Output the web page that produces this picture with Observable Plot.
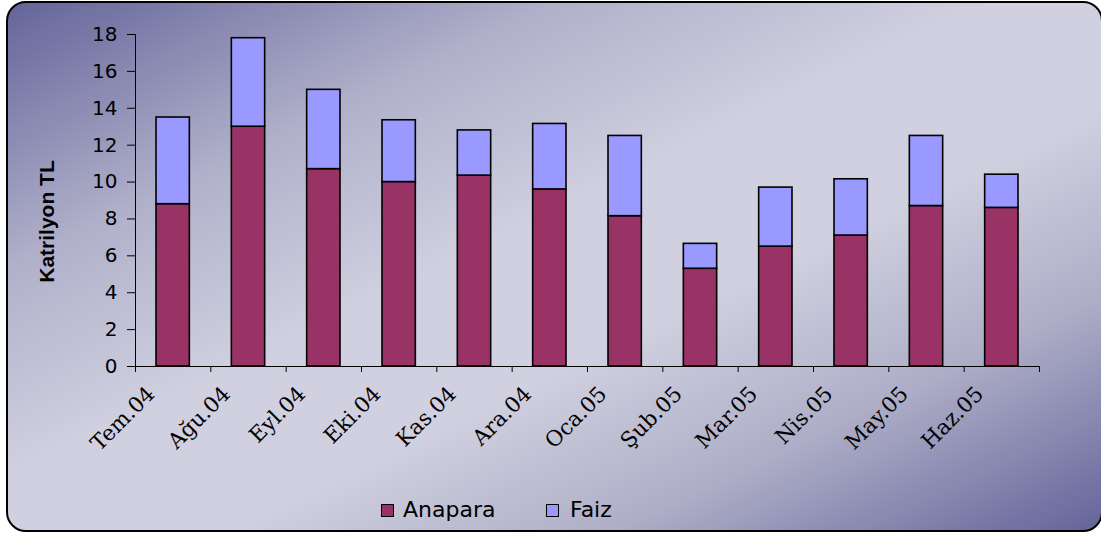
<!DOCTYPE html>
<html>
<head>
<meta charset="utf-8">
<script src="https://cdn.jsdelivr.net/npm/d3@7"></script>
<script src="https://cdn.jsdelivr.net/npm/@observablehq/plot@0.6"></script>
<style>
  html, body { margin: 0; padding: 0; background: #ffffff; }
  #wrap { position: relative; width: 1101px; height: 534px; overflow: hidden; }
  #frame {
    position: absolute; left: 6px; top: 1px; width: 1097px; height: 531px;
    box-sizing: border-box; border: 2px solid #000; border-radius: 20px;
    background: linear-gradient(to bottom right, #64649a 0%, #b0b0ca 25%, #d0d0e0 45%, #d0d0e0 60%, #adadc7 78%, #64649a 100%);
  }
  #chart { position: absolute; left: 0; top: 0; }
  #legend { position: absolute; left: 0; top: 0; width: 1101px; height: 534px; pointer-events: none;
    font-family: "DejaVu Sans", sans-serif; font-size: 22px; color: #000; }
  .sw { position: absolute; width: 13px; height: 13px; box-sizing: border-box; border: 1.5px solid #000; }
  .lt { position: absolute; line-height: 22px; }
</style>
</head>
<body>
<div id="wrap">
  <div id="frame"></div>
  <div id="chart"></div>
  <div id="legend"></div>
</div>
<script>
// ---- data ----
const months = ["Tem.04","Ağu.04","Eyl.04","Eki.04","Kas.04","Ara.04","Oca.05","Şub.05","Mar.05","Nis.05","May.05","Haz.05"];
const anapara = [8.8, 13.0, 10.7, 10.0, 10.35, 9.6, 8.15, 5.3, 6.5, 7.1, 8.7, 8.6];
const faiz    = [4.7, 4.8, 4.3, 3.35, 2.45, 3.55, 4.35, 1.35, 3.2, 3.05, 3.8, 1.8];
const yTicks = [0, 2, 4, 6, 8, 10, 12, 14, 16, 18];
const seriesNames = ["Anapara", "Faiz"];
const seriesColors = ["#993366", "#9999ff"];
const yLabel = "Katrilyon TL";

// ---- build table ----
const rows = [];
months.forEach((m, i) => {
  rows.push({i, month: m, series: "Anapara", y1: 0, y2: anapara[i]});
  rows.push({i, month: m, series: "Faiz", y1: anapara[i], y2: anapara[i] + faiz[i]});
});
const boundaries = d3.range(months.length + 1);

const chart = Plot.plot({
  width: 1101,
  height: 534,
  marginLeft: 135,
  marginRight: 62,
  marginTop: 34,
  marginBottom: 168,
  style: {background: "transparent", overflow: "visible", color: "#000"},
  x: {domain: [0, months.length], axis: null},
  y: {domain: [0, 18], axis: null},
  color: {domain: seriesNames, range: seriesColors},
  marks: [
    Plot.rect(rows, {
      x1: "i", x2: d => d.i + 1, y1: "y1", y2: "y2", fill: "series",
      insetLeft: 21, insetRight: 21, stroke: "#000", strokeWidth: 1.6
    }),
    Plot.ruleY([0], {stroke: "#000", strokeWidth: 1}),
    Plot.ruleX([0], {stroke: "#000", strokeWidth: 1}),
    Plot.axisY(yTicks, {
      tickSize: 8, tickPadding: 10, stroke: "#000", strokeWidth: 1,
      fontSize: 20, fontFamily: "DejaVu Sans", fill: "#000", label: null
    }),
    Plot.axisX(boundaries, {
      anchor: "bottom", tickSize: 6, tickFormat: () => "", stroke: "#000", strokeWidth: 1, label: null
    }),
    Plot.text(months, {
      x: (d, i) => i + 0.5, y: () => 0, text: d => d,
      rotate: -45, textAnchor: "end", lineAnchor: "middle",
      dx: -22, dy: 24, fontSize: 21.5, fontFamily: "DejaVu Serif", fill: "#000"
    }),
    Plot.text([yLabel], {
      frameAnchor: "left", text: d => d, rotate: -90, textAnchor: "middle", lineAnchor: "middle",
      dx: -88, dy: 21,
      fontSize: 21, fontWeight: "bold", fontFamily: "Liberation Sans, Arial", fill: "#000"
    })
  ]
});
document.getElementById("chart").appendChild(chart);

// ---- legend ----
const legend = document.getElementById("legend");
const legendPos = [{sq: 381, tx: 403}, {sq: 546, tx: 570}];
seriesNames.forEach((name, k) => {
  const sw = document.createElement("div");
  sw.className = "sw";
  sw.style.left = legendPos[k].sq + "px";
  sw.style.top = "504px";
  sw.style.background = seriesColors[k];
  legend.appendChild(sw);
  const t = document.createElement("div");
  t.className = "lt";
  t.style.left = legendPos[k].tx + "px";
  t.style.top = "499px";
  t.textContent = name;
  legend.appendChild(t);
});
</script>
</body>
</html>
